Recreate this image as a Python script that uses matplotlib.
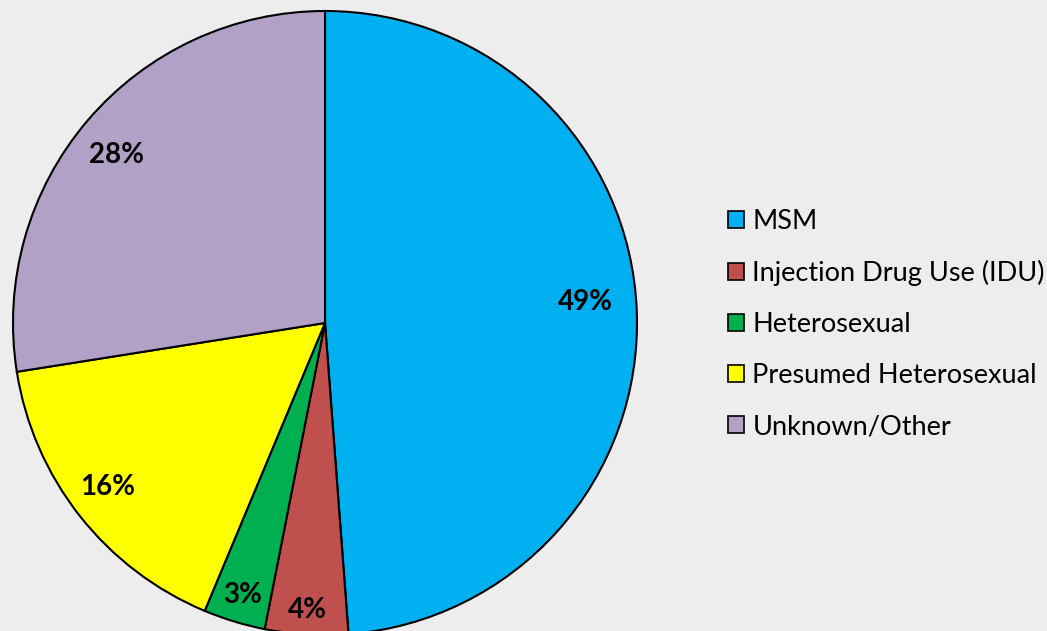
import numpy as np
import matplotlib
matplotlib.use("Agg")
import matplotlib.pyplot as plt
from matplotlib.patches import Patch

categories = ["MSM", "Injection Drug Use (IDU)", "Heterosexual",
              "Presumed Heterosexual", "Unknown/Other"]
shares = [48.8, 4.3, 3.2, 16.2, 27.5]
pct_labels = ["49%", "4%", "3%", "16%", "28%"]
colors = ["#00B0F0", "#C0504D", "#00B050", "#FFFF00", "#B2A1C7"]

W, H = 1047, 631
BG = "#EDEDED"
fig = plt.figure(figsize=(W / 100, H / 100), dpi=100, facecolor=BG)

# pie centre / radius in pixels
cx, cy, r = 325, 323, 312
lim = 1.03
size = r * lim
ax = fig.add_axes([(cx - size) / W, (H - cy - size) / H, 2 * size / W, 2 * size / H])
ax.set_facecolor(BG)

wedges, _ = ax.pie(shares, colors=colors, startangle=90, counterclock=False,
                   radius=1.0,
                   wedgeprops=dict(edgecolor="black", linewidth=1.5))
for w in wedges:
    w.set_clip_on(False)
ax.set_xlim(-lim, lim)
ax.set_ylim(-lim, lim)
ax.set_aspect("equal")
ax.axis("off")

# label placement per slice (Excel "best fit" look): radius, angle nudge in degrees
label_dist = [0.836, 0.92, 0.91, 0.872, 0.857]
label_nudge = [2.4, 0.0, 0.0, -1.1, 1.6]
for w, txt, d, nudge in zip(wedges, pct_labels, label_dist, label_nudge):
    mid = np.deg2rad((w.theta1 + w.theta2) / 2 + nudge)
    ax.text(d * np.cos(mid), d * np.sin(mid), txt, ha="center", va="center",
            fontsize=20, fontweight="bold", family="Lato", color="black")

handles = [Patch(facecolor=c, edgecolor="black", linewidth=1.2) for c in colors]
fig.legend(handles, categories, loc="upper left",
           bbox_to_anchor=(728 / W, 1 - 209 / H), frameon=False,
           prop=dict(family="Lato", size=19.5), handlelength=0.6, handleheight=0.6,
           handletextpad=0.3, labelspacing=0.96, borderpad=0, borderaxespad=0)

fig.savefig("out.png", dpi=100, facecolor=BG)
